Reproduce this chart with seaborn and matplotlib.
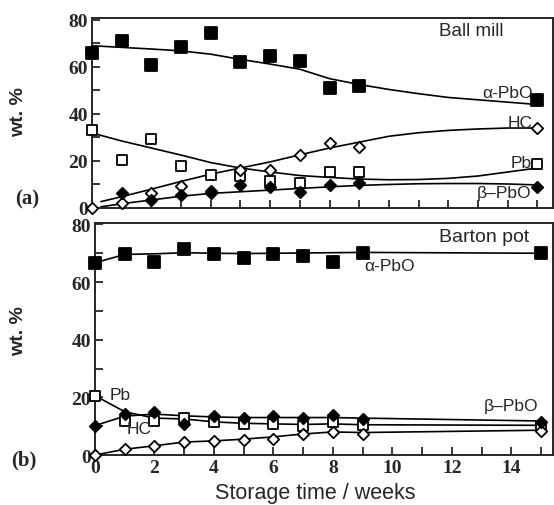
import numpy as np
import pandas as pd
import matplotlib.pyplot as plt
import seaborn as sns

weeks = [0, 1, 2, 3, 4, 5, 6, 7, 8, 9, 15]

# (a) ball mill - measured points
mill_alpha = [66, 71, 61, 68.5, 74.6, 62, 64.7, 62.5, 51, 52, 46]
mill_pb = [33.3, 20.2, 29.4, 17.9, 14.1, 13.7, 11.3, 10.8, 15.1, 15.1, 18.7]
mill_hc = [0, 2.3, 6.3, 9.5, 7.4, 16.2, 16.2, 22.6, 27.6, 25.9, 34]
mill_beta = [np.nan, 6.3, 3.4, 5.6, 6.3, 9.8, 9.1, 7.0, 9.8, 10.8, 9.0]

# (a) trend curves
fit_weeks = list(range(16))
fit_weeks_low = [0.3] + list(range(1, 16))
mill_alpha_fit = [69, 68.3, 67.6, 66.8, 65.4, 63.2, 61.2, 59, 55, 52.5, 50.4, 48.6, 47, 46, 45, 44]
mill_pb_fit = [31.9, 28.5, 25.5, 22.5, 19.3, 17, 15.3, 13.8, 13, 12.3, 12, 12.1, 12.6, 13.6, 15.3, 17]
mill_hc_fit = [2.7, 4.8, 8, 11.3, 14.4, 17, 19.6, 22.6, 25.5, 28, 30.5, 32, 33, 33.6, 34, 34]
mill_beta_fit = [0.5, 1.8, 3.4, 5, 6.2, 6.9, 7.6, 8.3, 9, 9.6, 10, 10.3, 10.4, 10.4, 10.2, 9.8]

# (b) Barton pot - measured points
pot_alpha = [66.7, 69.8, 67.1, 71.5, 69.8, 68.3, 69.8, 69, 67.1, 70.1, 70.1]
pot_pb = [20.6, 11.9, 11.9, 12.7, 11.3, 10.8, 10.8, 10.2, 11.3, 10.5, 10.2]
pot_hc = [0, 2.1, 3.2, 4.6, 4.7, 5.3, 5.6, 7.3, 8.1, 7.3, 8.4]
pot_beta = [10.2, 14.2, 14.8, 10.8, 13.4, 12.7, 13.7, 12.7, 13.9, 12.5, 11.3]

# (b) trend curves
pot_alpha_fit = [66.7, 69.6, 69.8, 70.2, 70.0, 69.9, 70.0, 70.1, 70.2, 70.3, 70.0]
pot_pb_fit = [20.6, 15, 12.8, 12.5, 11.5, 11, 10.8, 10.6, 10.8, 10.5, 10.3]
pot_hc_fit = [0, 2, 3.2, 4.5, 4.9, 5.5, 6.3, 7.3, 8, 7.8, 8.6]
pot_beta_fit = [10.2, 13.5, 14.2, 13.6, 13.2, 13, 13, 13, 13, 12.8, 11.8]

sns.set_style("ticks")
plt.rcParams['font.family'] = ['Liberation Sans', 'DejaVu Sans']

fig = plt.figure(figsize=(5.54, 5.06), dpi=100)
ax1 = fig.add_axes([0.166, 0.587, 0.832, 0.3755])
ax2 = fig.add_axes([0.1715, 0.0988, 0.827, 0.4585])


def points(ax, ys, marker, filled, size):
    sns.scatterplot(x=weeks, y=ys, ax=ax, marker=marker, s=size,
                    color='black' if filled else 'white', edgecolor='black',
                    linewidth=1.3, zorder=3, clip_on=False)


def curve(ax, xs, ys):
    sns.lineplot(x=xs, y=ys, ax=ax, color='black', lw=1.2, sort=False, zorder=2)


curve(ax1, fit_weeks, mill_alpha_fit)
curve(ax1, fit_weeks, mill_pb_fit)
curve(ax1, fit_weeks_low, mill_hc_fit)
curve(ax1, fit_weeks_low, mill_beta_fit)
points(ax1, mill_alpha, 's', True, 68)
points(ax1, mill_pb, 's', False, 42)
points(ax1, mill_hc, 'D', False, 34)
points(ax1, mill_beta, 'D', True, 34)

curve(ax2, weeks, pot_alpha_fit)
curve(ax2, weeks, pot_pb_fit)
curve(ax2, weeks, pot_hc_fit)
curve(ax2, weeks, pot_beta_fit)
points(ax2, pot_alpha, 's', True, 68)
points(ax2, pot_pb, 's', False, 42)
points(ax2, pot_hc, 'D', False, 34)
points(ax2, pot_beta, 'D', True, 34)

ax1.set_xlim(0, 15.52)
ax1.set_ylim(0, 80.8)
ax2.set_xlim(0, 15.41)
ax2.set_ylim(0, 80.5)

for ax in (ax1, ax2):
    ax.set_xticks(range(16))
    ax.set_yticks(range(0, 81, 10))
    ax.set_yticklabels([str(v) if v % 20 == 0 else '' for v in range(0, 81, 10)])
    ax.tick_params(direction='in', length=6, width=1.3, pad=3, labelsize=14)
    for sp in ax.spines.values():
        sp.set_visible(True)
        sp.set_linewidth(1.4)
    ax.set_xlabel('')
    ax.set_ylabel('')

ax1.set_xticklabels([])
ax2.set_xticklabels([str(v) if v % 2 == 0 else '' for v in range(16)])
for ax in (ax1, ax2):
    for lab in ax.get_xticklabels() + ax.get_yticklabels():
        lab.set_fontfamily('Liberation Serif')
        lab.set_fontweight('bold')

# labels inside panels
ax1.text(12.76, 75.3, 'Ball mill', fontsize=13.5, ha='center', va='center')
ax1.text(14.85, 49, 'α-PbO', fontsize=12.5, ha='right', va='center')
ax1.text(14.85, 36.5, 'HC', fontsize=12.5, ha='right', va='center')
ax1.text(14.8, 19.5, 'Pb', fontsize=12.5, ha='right', va='center')
ax1.text(14.8, 6.5, 'β–PbO', fontsize=12.5, ha='right', va='center')

ax2.text(13.1, 75.7, 'Barton pot', fontsize=14, ha='center', va='center')
ax2.text(9.05, 65.7, 'α-PbO', fontsize=12.5, ha='left', va='center')
ax2.text(14.9, 17.1, 'β–PbO', fontsize=12.5, ha='right', va='center')
ax2.text(0.5, 21, 'Pb', fontsize=12.5, ha='left', va='center')
ax2.text(1.08, 9.3, 'HC', fontsize=12.5, ha='left', va='center')

fig.text(19 / 554, 1 - 112 / 506, 'wt. %', rotation=90, fontsize=14,
         fontweight='bold', ha='center', va='center')
fig.text(19 / 554, 1 - 331 / 506, 'wt. %', rotation=90, fontsize=14,
         fontweight='bold', ha='center', va='center')
fig.text(27.5 / 554, 1 - 199 / 506, '(a)', fontsize=15, fontweight='bold',
         family='Liberation Serif', ha='center', va='center')
fig.text(23.5 / 554, 1 - 460 / 506, '(b)', fontsize=15, fontweight='bold',
         family='Liberation Serif', ha='center', va='center')
fig.text(315 / 554, 1 - 494 / 506, 'Storage time / weeks', fontsize=15.5,
         ha='center', va='center')

fig.savefig('out.png', dpi=100)
